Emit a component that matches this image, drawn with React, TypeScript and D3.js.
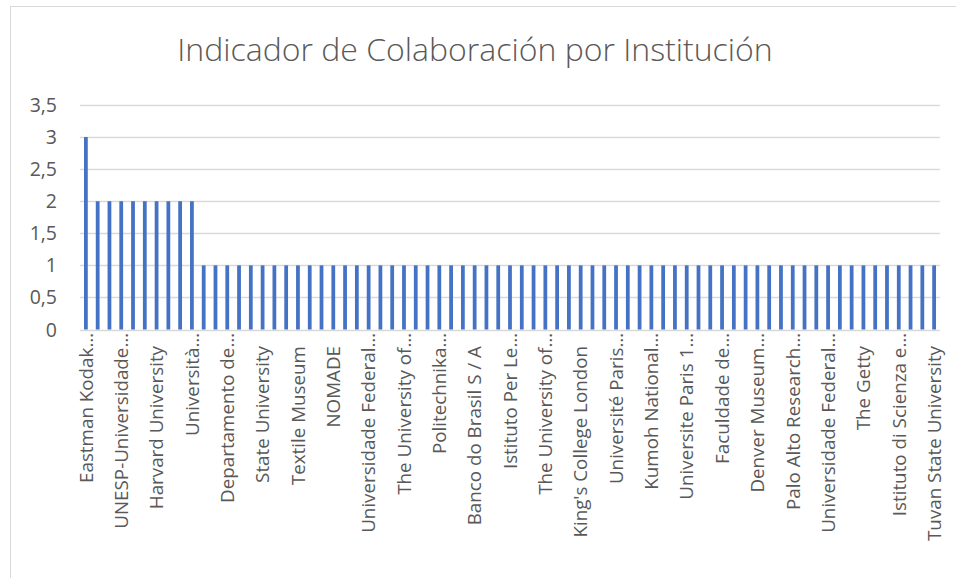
import * as d3 from "d3";

const WIDTH = 956;
const HEIGHT = 578;

const TITLE = "Indicador de Colaboración por Institución";

// institution names as they appear on the axis (every 3rd one is drawn)
const institutions = [
  "Eastman Kodak…", "Getty Conservation Institute", "Universidade de São Paulo",
  "UNESP-Universidade…", "Smithsonian Institution", "Universidad Complutense",
  "Harvard University", "University of Oxford", "Consiglio Nazionale delle Ricerche",
  "Università…", "Museo Nacional del Prado", "Universidade Federal de Minas Gerais",
  "Departamento de…", "Tokyo National Museum", "Rijksmuseum",
  "State University", "Yale University", "British Museum",
  "Textile Museum", "Universidad de Granada", "Musée du Louvre",
  "NOMADE", "Universidad de Sevilla", "Metropolitan Museum of Art",
  "Universidade Federal…", "Tate Britain", "University of Amsterdam",
  "The University of…", "Université de Lyon", "Museo Egizio",
  "Politechnika…", "Universidade do Porto", "Instituto Nacional de Antropología",
  "Banco do Brasil S / A", "Universidad de Chile", "Uppsala University",
  "Istituto Per Le…", "Stanford University", "Universidade de Lisboa",
  "The University of…", "Cornell University", "National Gallery",
  "King's College London", "University College London", "Universidad Nacional Autónoma",
  "Université Paris…", "Seoul National University", "Universidade Estadual de Campinas",
  "Kumoh National…", "Pontificia Universidad Católica", "Universität Wien",
  "Universite Paris 1…", "Universidad de Buenos Aires", "Freie Universität Berlin",
  "Faculdade de…", "Columbia University", "Universidad de Valencia",
  "Denver Museum…", "Museu Nacional", "Ghent University",
  "Palo Alto Research…", "University of Cambridge", "Princeton University",
  "Universidade Federal…", "Universidad de los Andes", "Victoria and Albert Museum",
  "The Getty", "Universidad de Salamanca", "Hokkaido University",
  "Istituto di Scienza e…", "Northwestern University", "Universidad de Barcelona",
  "Tuvan State University",
];

const collaboration = [
  3, 2, 2, 2, 2, 2, 2, 2, 2, 2,
  1, 1, 1, 1, 1, 1, 1, 1, 1, 1,
  1, 1, 1, 1, 1, 1, 1, 1, 1, 1,
  1, 1, 1, 1, 1, 1, 1, 1, 1, 1,
  1, 1, 1, 1, 1, 1, 1, 1, 1, 1,
  1, 1, 1, 1, 1, 1, 1, 1, 1, 1,
  1, 1, 1, 1, 1, 1, 1, 1, 1, 1,
  1, 1, 1,
];

const yTicks = [0, 0.5, 1, 1.5, 2, 2.5, 3, 3.5];

const TEXT = "#595959";
const GRID = "#D9D9D9";
const BAR = "#4472C4";
const FONT = "'Open Sans', sans-serif";

export default function App() {
  const idx = institutions.map((_, i) => i);

  const x = d3
    .scaleBand<number>()
    .domain(idx)
    .range([80, 940])
    .paddingInner(0.68)
    .paddingOuter(0.34);

  const y = d3.scaleLinear().domain([0, 3.5]).range([329.5, 105]);

  const fmt = (v: number) => String(v).replace(".", ",");

  return (
    <svg
      width={WIDTH}
      height={HEIGHT}
      style={{ position: "absolute", left: 0, top: 0, display: "block" }}
    >
      <rect x={0} y={0} width={WIDTH} height={HEIGHT} fill="#fff" />
      <rect
        x={10.5}
        y={6.5}
        width={1000}
        height={1000}
        fill="none"
        stroke={GRID}
      />
      <text
        x={475}
        y={61}
        textAnchor="middle"
        fontFamily={FONT}
        fontWeight={300}
        fontSize={32}
        fill={TEXT}
      >
        {TITLE}
      </text>

      {/* gridlines + y labels */}
      {yTicks.map((t) => (
        <g key={t}>
          <line
            x1={80}
            x2={940}
            y1={Math.round(y(t)) + 0.5}
            y2={Math.round(y(t)) + 0.5}
            stroke={GRID}
            strokeWidth={1.3}
          />
          <text
            x={57}
            y={y(t)}
            dy="0.36em"
            textAnchor="end"
            fontFamily={FONT}
            fontSize={19.5}
            fill={TEXT}
          >
            {fmt(t)}
          </text>
        </g>
      ))}

      {/* bars */}
      {collaboration.map((v, i) => (
        <rect
          key={i}
          x={x(i)}
          y={y(v)}
          width={x.bandwidth()}
          height={y(0) - y(v)}
          fill={BAR}
        />
      ))}

      {/* category labels, every third */}
      {institutions.map((name, i) => {
        if (i % 3 !== 0) return null;
        const cx = (x(i) ?? 0) + x.bandwidth() / 2;
        const top = name.endsWith("…") ? 333 : 346;
        return (
          <text
            key={i}
            transform={`translate(${cx},${top}) rotate(-90)`}
            dy="0.36em"
            textAnchor="end"
            fontFamily={FONT}
            fontSize={18.8}
            fill={TEXT}
          >
            {name}
          </text>
        );
      })}
    </svg>
  );
}
